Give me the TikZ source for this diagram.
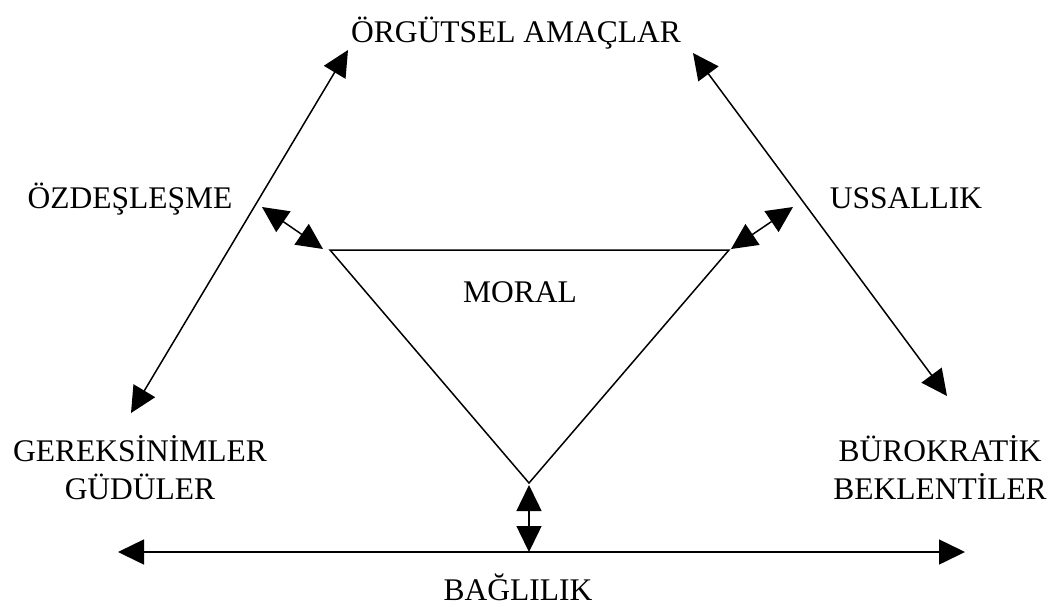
\documentclass[tikz,border=0pt]{standalone}
\usepackage{fontspec}
\setmainfont{Liberation Serif}
\usetikzlibrary{arrows.meta}
\begin{document}
\begin{tikzpicture}[x=1pt,y=-1pt,
  lbl/.style={font=\fontsize{31.5}{38}\selectfont, inner sep=0pt, anchor=base, align=center},
  dbl/.style={line width=1.5pt, {Triangle[length=26pt,width=25pt]}-{Triangle[length=26pt,width=25pt]}},
  tri/.style={line width=1.5pt, line join=miter}]
\useasboundingbox (0,0) rectangle (1052,606);
% texts
\node[lbl] (amac) at (516,42) {ÖRGÜTSEL AMAÇLAR};
\node[lbl] (ozd) at (130,208) {ÖZDEŞLEŞME};
\node[lbl] (uss) at (906,208) {USSALLIK};
\node[lbl] (moral) at (520,302) {MORAL};
\node[lbl, anchor=north] (gerek) at (140,435) {GEREKSİNİMLER\\GÜDÜLER};
\node[lbl, anchor=north] (buro) at (940,435) {BÜROKRATİK\\BEKLENTİLER};
\node[lbl] (bag) at (518,600) {BAĞLILIK};
% triangle
\coordinate (tl) at (330,250);
\coordinate (tr) at (729,250);
\coordinate (tb) at (529,483);
\draw[tri] (tl) -- (tr) -- (tb) -- cycle;
% arrow end points
\coordinate (la1) at (131,413);
\coordinate (la2) at (348,50);
\coordinate (ra1) at (693,53);
\coordinate (ra2) at (947,396);
\coordinate (h1) at (118,552);
\coordinate (h2) at (965,552);
\coordinate (hm) at (529,552);
\coordinate (sl1) at (262,207);
\coordinate (sl2) at (323,249);
\coordinate (sr1) at (793,207);
\coordinate (sr2) at (731,249);
\coordinate (vt) at (529,485);
\draw[dbl] (la1) -- (la2);
\draw[dbl] (ra1) -- (ra2);
\draw[dbl] (h1) -- (h2);
\draw[dbl] (sl1) -- (sl2);
\draw[dbl] (sr1) -- (sr2);
\draw[dbl] (vt) -- (hm);
\end{tikzpicture}
\end{document}
